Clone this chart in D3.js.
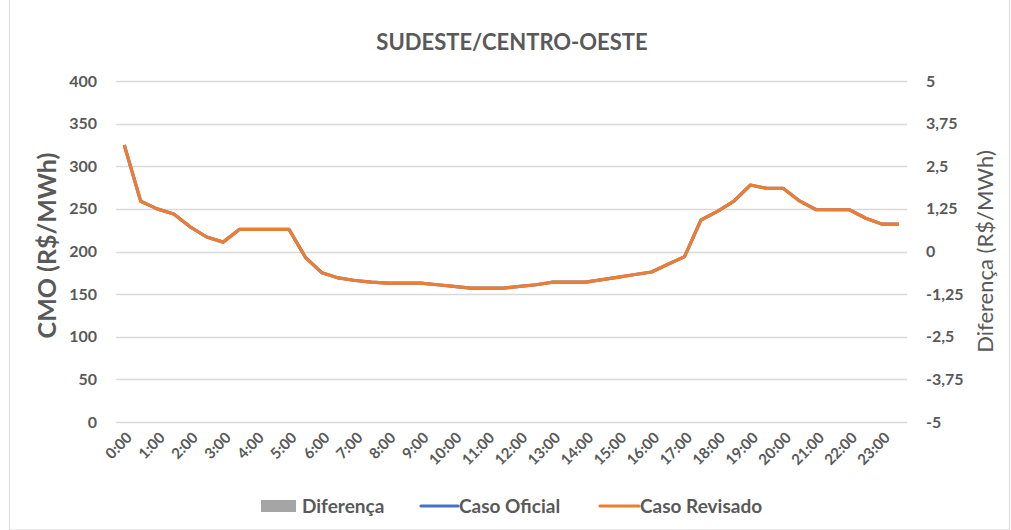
<!DOCTYPE html>
<html>
<head>
<meta charset="utf-8">
<script src="https://cdn.jsdelivr.net/npm/d3@7"></script>
<style>
  body { margin: 0; background: #fff; }
  text { font-family: Lato, "Open Sans", sans-serif; fill: #595959; }
</style>
</head>
<body>
<div id="chart"></div>
<script>
// half-hour steps, 0:00 .. 23:30
const hours = d3.range(48).map((i) => `${Math.floor(i / 2)}:${i % 2 ? '30' : '00'}`);

const casoRevisado = [
  325, 259, 250, 244, 229, 217, 211, 226, 226, 226,
  226, 193, 175, 169, 166, 164, 163, 163, 163, 161,
  159, 157, 157, 157, 159, 161, 164, 164, 164, 167,
  170, 173, 176, 185, 194, 237, 247, 259, 278, 274,
  274, 259, 249, 249, 249, 239, 232, 232,
];
const casoOficial = casoRevisado.slice();
const diferenca = hours.map(() => 0);

const leftTicks = [0, 50, 100, 150, 200, 250, 300, 350, 400];
const rightTicks = [-5, -3.75, -2.5, -1.25, 0, 1.25, 2.5, 3.75, 5];

const width = 1011;
const height = 530;
const margin = { top: 81, right: 104, bottom: 108, left: 116 };

const svg = d3.select('#chart')
  .append('svg')
  .attr('width', width)
  .attr('height', height);

// chart border
svg.append('rect')
  .attr('x', 9.5).attr('y', -1)
  .attr('width', 1000).attr('height', 531)
  .attr('fill', 'none')
  .attr('stroke', '#d9d9d9');

const x = d3.scaleBand()
  .domain(hours)
  .range([margin.left, width - margin.right]);

const y = d3.scaleLinear()
  .domain([0, 400])
  .range([height - margin.bottom, margin.top]);

const y2 = d3.scaleLinear()
  .domain([-5, 5])
  .range([height - margin.bottom, margin.top]);

const fmt = (v) => String(v).replace('.', ',');

// gridlines
svg.append('g')
  .selectAll('line')
  .data(leftTicks)
  .join('line')
  .attr('x1', margin.left)
  .attr('x2', width - margin.right)
  .attr('y1', (d) => Math.round(y(d)) + 0.5)
  .attr('y2', (d) => Math.round(y(d)) + 0.5)
  .attr('stroke', '#d9d9d9')
  .attr('stroke-width', 1.3);

// left ticks
svg.append('g')
  .selectAll('text')
  .data(leftTicks)
  .join('text')
  .attr('x', 97)
  .attr('y', (d) => y(d))
  .attr('dy', '0.35em')
  .attr('text-anchor', 'end')
  .attr('font-size', 16)
  .attr('font-weight', 'bold')
  .text((d) => d);

// right ticks
svg.append('g')
  .selectAll('text')
  .data(rightTicks)
  .join('text')
  .attr('x', 926)
  .attr('y', (d) => y2(d))
  .attr('dy', '0.35em')
  .attr('font-size', 16)
  .attr('font-weight', 'bold')
  .text((d) => fmt(d));

// x labels, one per hour
svg.append('g')
  .selectAll('text')
  .data(hours.filter((h, i) => i % 2 === 0))
  .join('text')
  .attr('transform', (d) => `translate(${x(d) + x.bandwidth() / 2 + 5},${height - margin.bottom + 13}) rotate(-45)`)
  .attr('text-anchor', 'end')
  .attr('dy', '0.35em')
  .attr('font-size', 15)
  .attr('font-weight', 'bold')
  .text((d) => d);

// diferença bars (zero)
svg.append('g')
  .selectAll('rect')
  .data(diferenca)
  .join('rect')
  .attr('x', (d, i) => x(hours[i]) + x.bandwidth() * 0.2)
  .attr('width', x.bandwidth() * 0.6)
  .attr('y', (d) => Math.min(y2(d), y2(0)))
  .attr('height', (d) => Math.abs(y2(d) - y2(0)))
  .attr('fill', '#a5a5a5');

const line = d3.line()
  .x((d, i) => x(hours[i]) + x.bandwidth() / 2)
  .y((d) => y(d));

svg.append('path')
  .datum(casoOficial)
  .attr('d', line)
  .attr('fill', 'none')
  .attr('stroke', '#4472c4')
  .attr('stroke-width', 3.2)
  .attr('stroke-linejoin', 'round');

svg.append('path')
  .datum(casoRevisado)
  .attr('d', line)
  .attr('fill', 'none')
  .attr('stroke', '#ed7d31')
  .attr('stroke-width', 3.2)
  .attr('stroke-linejoin', 'round');

// title
svg.append('text')
  .attr('x', 512)
  .attr('y', 50)
  .attr('text-anchor', 'middle')
  .attr('font-size', 22)
  .attr('font-weight', 'bold')
  .text('SUDESTE/CENTRO-OESTE');

// axis titles
svg.append('text')
  .attr('transform', `translate(56,${(y(0) + y(400)) / 2 - 6}) rotate(-90)`)
  .attr('text-anchor', 'middle')
  .attr('font-size', 25)
  .attr('font-weight', 'bold')
  .text('CMO (R$/MWh)');

svg.append('text')
  .attr('transform', `translate(993,${(y(0) + y(400)) / 2}) rotate(-90)`)
  .attr('text-anchor', 'middle')
  .attr('font-size', 22)
  .text('Diferença (R$/MWh)');

// legend
const legend = svg.append('g').attr('transform', 'translate(0,506)');
legend.append('rect')
  .attr('x', 261).attr('y', -6).attr('width', 35).attr('height', 12)
  .attr('fill', '#a5a5a5');
legend.append('text').attr('x', 302).attr('dy', '0.35em')
  .attr('font-size', 19).attr('font-weight', 'bold').text('Diferença');
legend.append('line')
  .attr('x1', 421).attr('x2', 458)
  .attr('stroke', '#4472c4').attr('stroke-width', 3.2).attr('stroke-linecap', 'round');
legend.append('text').attr('x', 459).attr('dy', '0.35em')
  .attr('font-size', 19).attr('font-weight', 'bold').text('Caso Oficial');
legend.append('line')
  .attr('x1', 600).attr('x2', 639)
  .attr('stroke', '#ed7d31').attr('stroke-width', 3.2).attr('stroke-linecap', 'round');
legend.append('text').attr('x', 640).attr('dy', '0.35em')
  .attr('font-size', 19).attr('font-weight', 'bold').text('Caso Revisado');
</script>
</body>
</html>
